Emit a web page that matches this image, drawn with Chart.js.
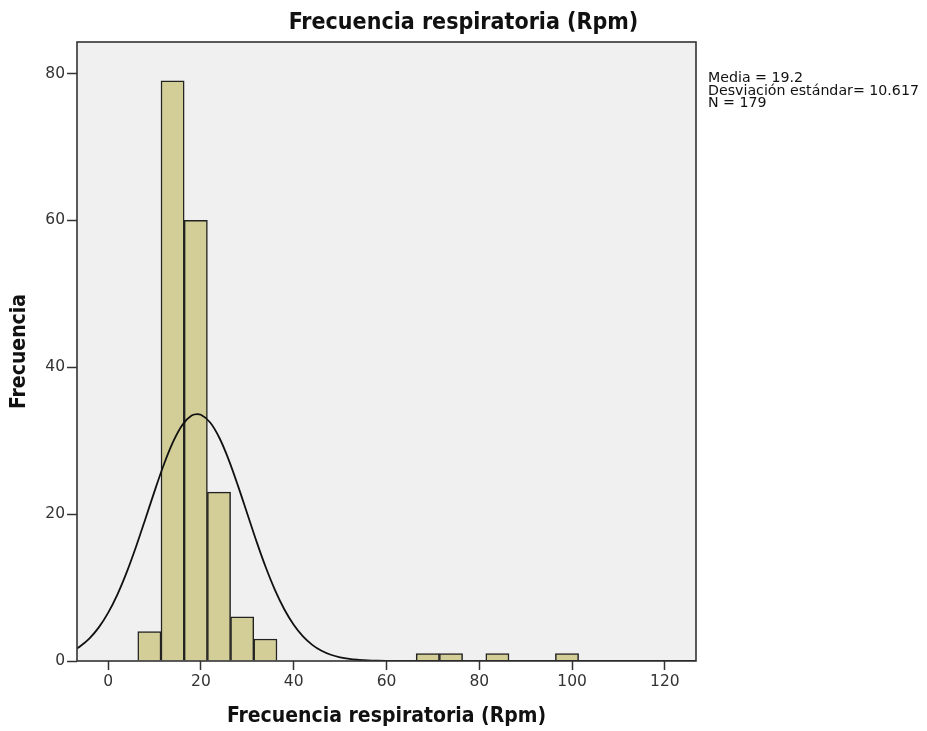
<!DOCTYPE html>
<html>
<head>
<meta charset="utf-8">
<script src="https://cdn.jsdelivr.net/npm/chart.js@4/dist/chart.umd.min.js"></script>
<style>
  html, body { margin: 0; padding: 0; background: #fff; }
  #wrap { width: 927px; height: 731px; }
</style>
</head>
<body>
<div id="wrap"><canvas id="chart" width="927" height="731"></canvas></div>
<script>
// histogram bins (centre of each 5-unit bin) and counts
const binCenters = [8.9, 13.9, 18.9, 23.9, 28.9, 33.9, 68.9, 73.9, 83.9, 98.9];
const binCounts = [4, 79, 60, 23, 6, 3, 1, 1, 1, 1];

// normal curve
const curveX = [-6.7, -6, -4, -2, 0, 2, 4, 6, 8, 10, 12, 14, 16, 18, 19.2, 20, 22, 24, 26, 28, 30,
  32, 34, 36, 38, 40, 42, 44, 46, 48, 50, 52, 54, 56, 58, 60, 62, 66, 126.7];
const curveY = [1.72, 2.01, 3.09, 4.58, 6.55, 9.05, 12.07, 15.53, 19.28, 23.1, 26.72, 29.83, 32.14, 33.42, 33.63,
  33.53, 32.48, 30.37, 27.4, 23.85, 20.05, 16.26, 12.73, 9.62, 7.01, 4.93, 3.35, 2.2, 1.39, 0.85, 0.5,
  0.28, 0.16, 0.08, 0.04, 0.02, 0.01, 0, 0];

const xTicks = [0, 20, 40, 60, 80, 100, 120];
const yTicks = [0, 20, 40, 60, 80];

const chartTitle = "Frecuencia respiratoria (Rpm)";
const xTitle = "Frecuencia respiratoria (Rpm)";
const yTitle = "Frecuencia";
const statsLines = ["Media = 19.2", "Desviación estándar= 10.617", "N = 179"];

const boldFont = "'DejaVu Sans Condensed', 'DejaVu Sans', sans-serif";
const plainFont = "'DejaVu Sans', sans-serif";

// paints the background, frame, title and the stats box
const decorations = {
  id: "decorations",
  beforeDraw(chart) {
    const { ctx, chartArea: a } = chart;
    ctx.save();
    ctx.fillStyle = "#ffffff";
    ctx.fillRect(0, 0, chart.width, chart.height);
    ctx.fillStyle = "#f0f0f0";
    ctx.fillRect(a.left, a.top, a.right - a.left, a.bottom - a.top);
    ctx.restore();
  },
  afterDraw(chart) {
    const { ctx, chartArea: a } = chart;
    ctx.save();
    ctx.strokeStyle = "#333";
    ctx.lineWidth = 1.6;
    ctx.strokeRect(a.left, a.top, a.right - a.left, a.bottom - a.top);

    ctx.fillStyle = "#111";
    ctx.font = "bold 23px " + boldFont;
    ctx.textAlign = "center";
    ctx.textBaseline = "middle";
    ctx.fillText(chartTitle, chart.width / 2, 23);

    ctx.font = "14.2px " + plainFont;
    ctx.textAlign = "left";
    ctx.textBaseline = "alphabetic";
    statsLines.forEach((line, i) => {
      ctx.fillText(line, a.right + 12, 82 + i * 12.5);
    });
    ctx.restore();
  }
};

new Chart(document.getElementById("chart"), {
  type: "bar",
  data: {
    datasets: [
      {
        type: "line",
        data: curveX.map((x, i) => ({ x: x, y: curveY[i] })),
        borderColor: "#111",
        borderWidth: 1.8,
        pointRadius: 0,
        cubicInterpolationMode: "monotone",
        fill: false,
        order: 0,
      },
      {
        type: "bar",
        data: binCenters.map((x, i) => ({ x: x, y: binCounts[i] })),
        backgroundColor: "#d3ce98",
        borderColor: "#222",
        borderWidth: 1.5,
        categoryPercentage: 1,
        barPercentage: 1,
        order: 1,
      },
    ],
  },
  options: {
    responsive: false,
    animation: false,
    layout: { padding: { top: 42, right: 231, left: 0, bottom: 0 } },
    plugins: {
      legend: { display: false },
      tooltip: { enabled: false },
      title: { display: false },
    },
    scales: {
      x: {
        type: "linear",
        offset: false,
        min: -6.7,
        max: 126.7,
        afterBuildTicks: (scale) => { scale.ticks = xTicks.map((v) => ({ value: v })); },
        afterFit: (scale) => { scale.height = 70; },
        grid: { offset: false, drawOnChartArea: false, tickLength: 9, color: "#333", tickWidth: 1.5 },
        border: { display: false },
        ticks: { color: "#333", padding: 3, maxRotation: 0, font: { family: plainFont, size: 15.5 } },
        title: {
          display: true,
          text: xTitle,
          color: "#111",
          padding: { top: 2, bottom: 2 },
          font: { family: boldFont, size: 21, weight: "bold" },
        },
      },
      y: {
        min: 0,
        max: 84.3,
        afterBuildTicks: (scale) => { scale.ticks = yTicks.map((v) => ({ value: v })); },
        afterFit: (scale) => { scale.width = 77; },
        grid: { drawOnChartArea: false, tickLength: 10, color: "#333", tickWidth: 1.5 },
        border: { display: false },
        ticks: { color: "#333", padding: 2, font: { family: plainFont, size: 15.5 } },
        title: {
          display: true,
          text: yTitle,
          color: "#111",
          padding: { top: 7, bottom: 7 },
          font: { family: boldFont, size: 21, weight: "bold" },
        },
      },
    },
  },
  plugins: [decorations],
});
</script>
</body>
</html>
